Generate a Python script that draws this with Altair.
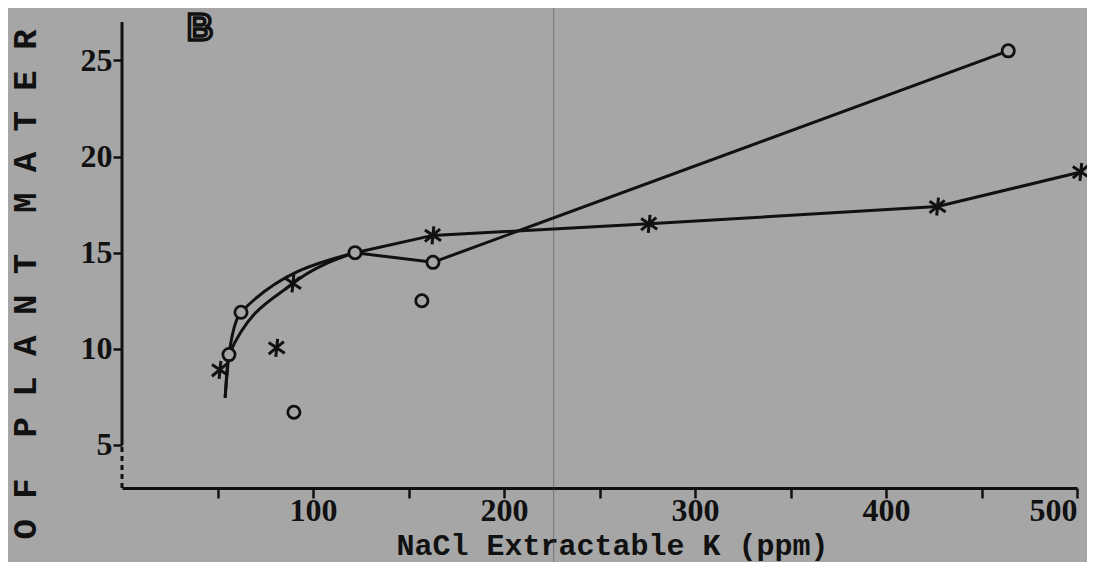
import altair as alt
import pandas as pd

# ---- data ----
circle_x = [56, 62.3, 122, 162.8, 464, 157, 90]
circle_y = [9.7, 11.9, 15.0, 14.5, 25.5, 12.5, 6.7]
star_x = [51.3, 81, 89.5, 162.8, 276, 427, 502]
star_y = [8.9, 10.05, 13.4, 15.9, 16.5, 17.4, 19.2]

# hand-drawn fitted curves (curved part, then straight part)
circ_curve_x = [54, 56, 62.3, 122]
circ_curve_y = [7.45, 9.7, 11.9, 15.0]
circ_straight_x = [122, 162.8, 464]
circ_straight_y = [15.0, 14.5, 25.5]
star_curve_x = [54, 56, 89.5, 122]
star_curve_y = [7.45, 9.7, 13.4, 15.0]
star_straight_x = [122, 162.8, 276, 427, 502]
star_straight_y = [15.0, 15.9, 16.5, 17.4, 19.2]

x_ticks = [50, 100, 150, 200, 250, 300, 350, 400, 450, 500]
y_ticks = [5, 10, 15, 20, 25]
fold_x = [226]          # scan fold line
X_MIN, X_MAX = 0, 500
Y_MIN, Y_MAX = 2.76, 27.0
Y_BREAK = 5

BG = "#a6a6a6"
INK = "#111111"

NB = "\u00a0"
x_title = "NaCl Extractable K (ppm)"
y_title = ("O F" + NB * 2 + "P L A N T" + NB * 2 + "M A T E R").replace(" ", NB)
panel = "B"

xs = alt.Scale(domain=[X_MIN, X_MAX], nice=False, zero=False)
ys = alt.Scale(domain=[Y_MIN, Y_MAX], nice=False, zero=False)

X = alt.X("x:Q", scale=xs, axis=alt.Axis(
    values=x_ticks, labelExpr="datum.value % 100 === 0 ? datum.label : ''",
    title=x_title, grid=False, domainColor=INK, domainWidth=3,
    tickColor=INK, tickWidth=2.5, tickSize=10, labelPadding=-3,
    labelFont="Liberation Serif", labelFontSize=32, labelFontWeight="bold",
    labelColor=INK,
    titleFont="Liberation Mono", titleFontSize=30, titleFontWeight="bold",
    titleColor=INK, titleX=490, titleY=57, titleBaseline="middle",
    titleAnchor="middle"))
Y = alt.Y("y:Q", scale=ys, axis=alt.Axis(
    values=y_ticks, title=y_title, grid=False, domain=False,
    tickColor=INK, tickWidth=2.5, tickSize=9, labelPadding=1,
    labelFont="Liberation Serif", labelFontSize=32, labelFontWeight="bold",
    labelColor=INK,
    titleFont="Liberation Mono", titleFontSize=34, titleFontWeight="bold",
    titleColor=INK, titleX=-97, titleY=262, titleBaseline="middle",
    titleAngle=-90))

def df(xv, yv):
    return pd.DataFrame({"x": xv, "y": yv})

line_style = dict(color=INK, strokeWidth=3)
c1 = alt.Chart(df(circ_curve_x, circ_curve_y)).mark_line(interpolate="monotone", **line_style).encode(x=X, y=Y)
c2 = alt.Chart(df(circ_straight_x, circ_straight_y)).mark_line(**line_style).encode(x=X, y=Y)
s1 = alt.Chart(df(star_curve_x, star_curve_y)).mark_line(interpolate="monotone", **line_style).encode(x=X, y=Y)
s2 = alt.Chart(df(star_straight_x, star_straight_y)).mark_line(**line_style).encode(x=X, y=Y)

star_path = "M0.1,-1L-0.1,1M-0.9,-0.6L0.9,0.6M-0.9,0.7L0.8,-0.7"
stars = alt.Chart(df(star_x, star_y)).mark_point(
    shape=star_path, size=320, filled=False, stroke=INK, strokeWidth=3, opacity=1
).encode(x=X, y=Y)
circles = alt.Chart(df(circle_x, circle_y)).mark_point(
    shape="circle", size=150, fill=BG, fillOpacity=1, stroke=INK, strokeWidth=2.8, opacity=1
).encode(x=X, y=Y)

axis_df = pd.DataFrame({"x": [X_MIN]})
y_solid = alt.Chart(axis_df).mark_rule(color=INK, strokeWidth=3).encode(
    x=alt.X("x:Q", scale=xs), y=alt.datum(Y_BREAK, scale=ys), y2=alt.datum(Y_MAX))
y_dash = alt.Chart(axis_df).mark_rule(color=INK, strokeWidth=3, strokeDash=[5, 4]).encode(
    x=alt.X("x:Q", scale=xs), y=alt.datum(Y_MIN, scale=ys), y2=alt.datum(Y_BREAK))

fold = alt.Chart(pd.DataFrame({"x": fold_x})).mark_rule(color="#4a4a4a", strokeWidth=1, opacity=0.55).encode(
    x=alt.X("x:Q", scale=xs), y=alt.value(-30), y2=alt.value(560))

label_b = alt.Chart(pd.DataFrame({"t": [panel]})).mark_text(
    font="Liberation Sans", fontSize=36, fontWeight="bold", fill=BG, stroke=INK,
    strokeWidth=3.5, align="center", baseline="middle"
).encode(text="t:N", x=alt.value(78), y=alt.value(7))

chart = alt.layer(fold, y_solid, y_dash, c1, c2, s1, s2, stars, circles, label_b).properties(
    width=955, height=466, background=BG,
    autosize=alt.AutoSizeParams(type="none"),
    padding={"left": 114, "top": 14, "right": 10, "bottom": 74},
).configure_view(stroke=None)

chart.save("out.html", embed_options={"renderer": "svg", "actions": False})
